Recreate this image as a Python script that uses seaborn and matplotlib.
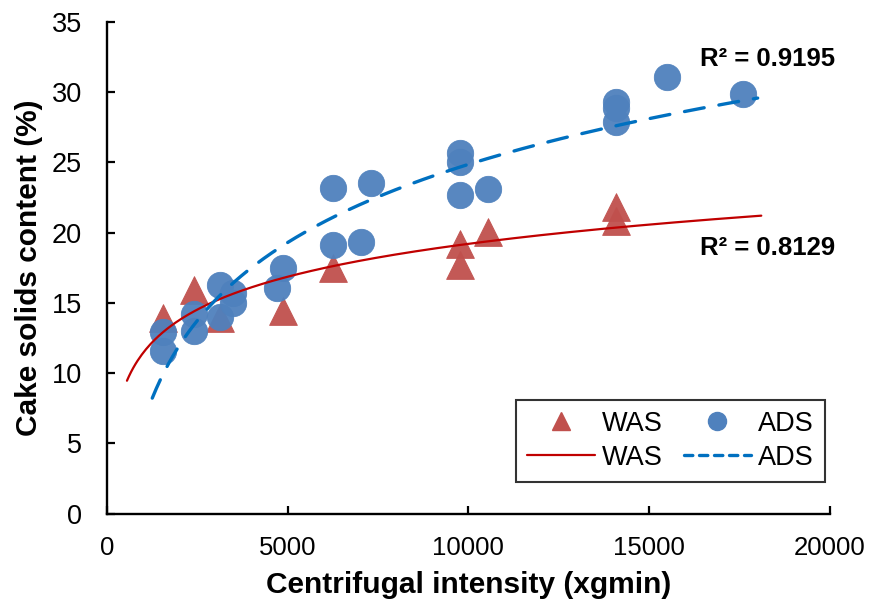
import numpy as np
import pandas as pd
import matplotlib
matplotlib.use("Agg")
import matplotlib.pyplot as plt
import seaborn as sns
from matplotlib.lines import Line2D

# ---- data ----
was_x = [1548, 2422, 3132, 4882, 6248, 9768, 9768, 10550, 14072, 14072]
was_y = [13.9, 15.94, 13.94, 14.43, 17.52, 19.22, 17.7, 20.07, 21.83, 20.83]

ads_x = [1548, 1548, 2422, 2422, 3132, 3132, 3484, 3484, 4882, 4708,
         6248, 6248, 7022, 7307, 9768, 9768, 9768, 10550,
         14072, 14072, 14072, 15482, 17600]
ads_y = [12.95, 11.6, 14.19, 13.02, 16.28, 14.02, 15.69, 15.0, 17.47, 16.1,
         23.16, 19.12, 19.36, 23.52, 25.65, 25.05, 22.68, 23.11,
         29.32, 28.85, 27.9, 31.06, 29.87]

was_trend_range = [560, 18100]
ads_trend_range = [1260, 18000]
r2_labels = ["R² = 0.9195", "R² = 0.8129"]
r2_pos = [(16400, 32.4), (16400, 18.9)]

x_ticks = [0, 5000, 10000, 15000, 20000]
y_ticks = [0, 5, 10, 15, 20, 25, 30, 35]

# ---- styling ----
sns.set_theme(style="white")
plt.rcParams["font.family"] = ["Liberation Sans", "DejaVu Sans"]
plt.rcParams["xtick.direction"] = "in"
plt.rcParams["ytick.direction"] = "in"
plt.rcParams["text.color"] = "black"
plt.rcParams["axes.labelcolor"] = "black"
plt.rcParams["xtick.color"] = "black"
plt.rcParams["ytick.color"] = "black"
plt.rcParams["legend.labelcolor"] = "black"

c_was = "#C0504D"
c_ads = "#4F81BD"
c_was_line = "#C00000"
c_ads_line = "#0070C0"

fig = plt.figure(figsize=(8.7, 6.1), dpi=100)
ax = fig.add_axes([106.7 / 870, 1 - 513.7 / 610, (830 - 106.7) / 870, (513.7 - 22) / 610])

df_was = pd.DataFrame({"x": was_x, "y": was_y})
df_ads = pd.DataFrame({"x": ads_x, "y": ads_y})

sns.scatterplot(data=df_was, x="x", y="y", marker="^", s=400, color=c_was,
                edgecolor=c_was, linewidth=0.6, alpha=0.95, ax=ax, zorder=2)
sns.scatterplot(data=df_ads, x="x", y="y", marker="o", s=360, color=c_ads,
                edgecolor=c_ads, linewidth=0.6, alpha=0.95, ax=ax, zorder=2)


def log_fit(xs, ys, rng):
    a, b = np.polyfit(np.log(xs), ys, 1)
    xx = np.linspace(rng[0], rng[1], 300)
    return pd.DataFrame({"x": xx, "y": a * np.log(xx) + b})


fw = log_fit(np.array(was_x, float), np.array(was_y, float), was_trend_range)
fa = log_fit(np.array(ads_x, float), np.array(ads_y, float), ads_trend_range)

sns.lineplot(data=fw, x="x", y="y", color=c_was_line, lw=1.6, ax=ax, zorder=3)
sns.lineplot(data=fa, x="x", y="y", color=c_ads_line, lw=2.4, ax=ax, zorder=3)
ads_line = ax.lines[-1]
ads_line.set_dashes((6, 4.5))
ads_line.set_dash_capstyle("round")

for txt, (tx, ty) in zip(r2_labels, r2_pos):
    ax.text(tx, ty, txt, fontsize=18.5, fontweight="bold", ha="left", va="center",
            color="black")

ax.set_xlim(0, 20000)
ax.set_ylim(0, 35)
ax.set_xticks(x_ticks)
ax.set_yticks(y_ticks)
ax.set_xticklabels([str(t) for t in x_ticks])
ax.set_yticklabels([str(t) for t in y_ticks])
ax.tick_params(axis="both", direction="in", length=6, width=1.6,
               colors="black", bottom=True, left=True)
ax.tick_params(axis="y", pad=18, labelsize=19.5)
ax.tick_params(axis="x", pad=16, labelsize=18.5)

for side in ["top", "right"]:
    ax.spines[side].set_visible(False)
for side in ["left", "bottom"]:
    ax.spines[side].set_color("black")
    ax.spines[side].set_linewidth(1.7)

ax.set_xlabel("Centrifugal intensity (xgmin)", fontsize=21.5, fontweight="bold",
              labelpad=8, color="black")
ax.set_ylabel("Cake solids content (%)", fontsize=21.5, fontweight="bold",
              labelpad=6, color="black")

handles = [
    Line2D([], [], marker="^", ls="none", color=c_was, markersize=13),
    Line2D([], [], color=c_was_line, lw=1.6),
    Line2D([], [], marker="o", ls="none", color=c_ads, markersize=13),
    Line2D([], [], color=c_ads_line, lw=2.4, dashes=(2.5, 2), dash_capstyle="round"),
]
labels = ["WAS", "WAS", "ADS", "ADS"]
leg = ax.legend(handles, labels, ncol=2, loc="lower right",
                bbox_to_anchor=(0.993, 0.065), borderaxespad=0, fontsize=19.5,
                frameon=True, fancybox=False, handlelength=2.5, handletextpad=0.26,
                columnspacing=0.78, labelspacing=0.3, borderpad=0.4,
                labelcolor="black")
leg.get_frame().set_edgecolor("black")
leg.get_frame().set_linewidth(1.5)

fig.savefig("out.png", dpi=100, facecolor="white")
